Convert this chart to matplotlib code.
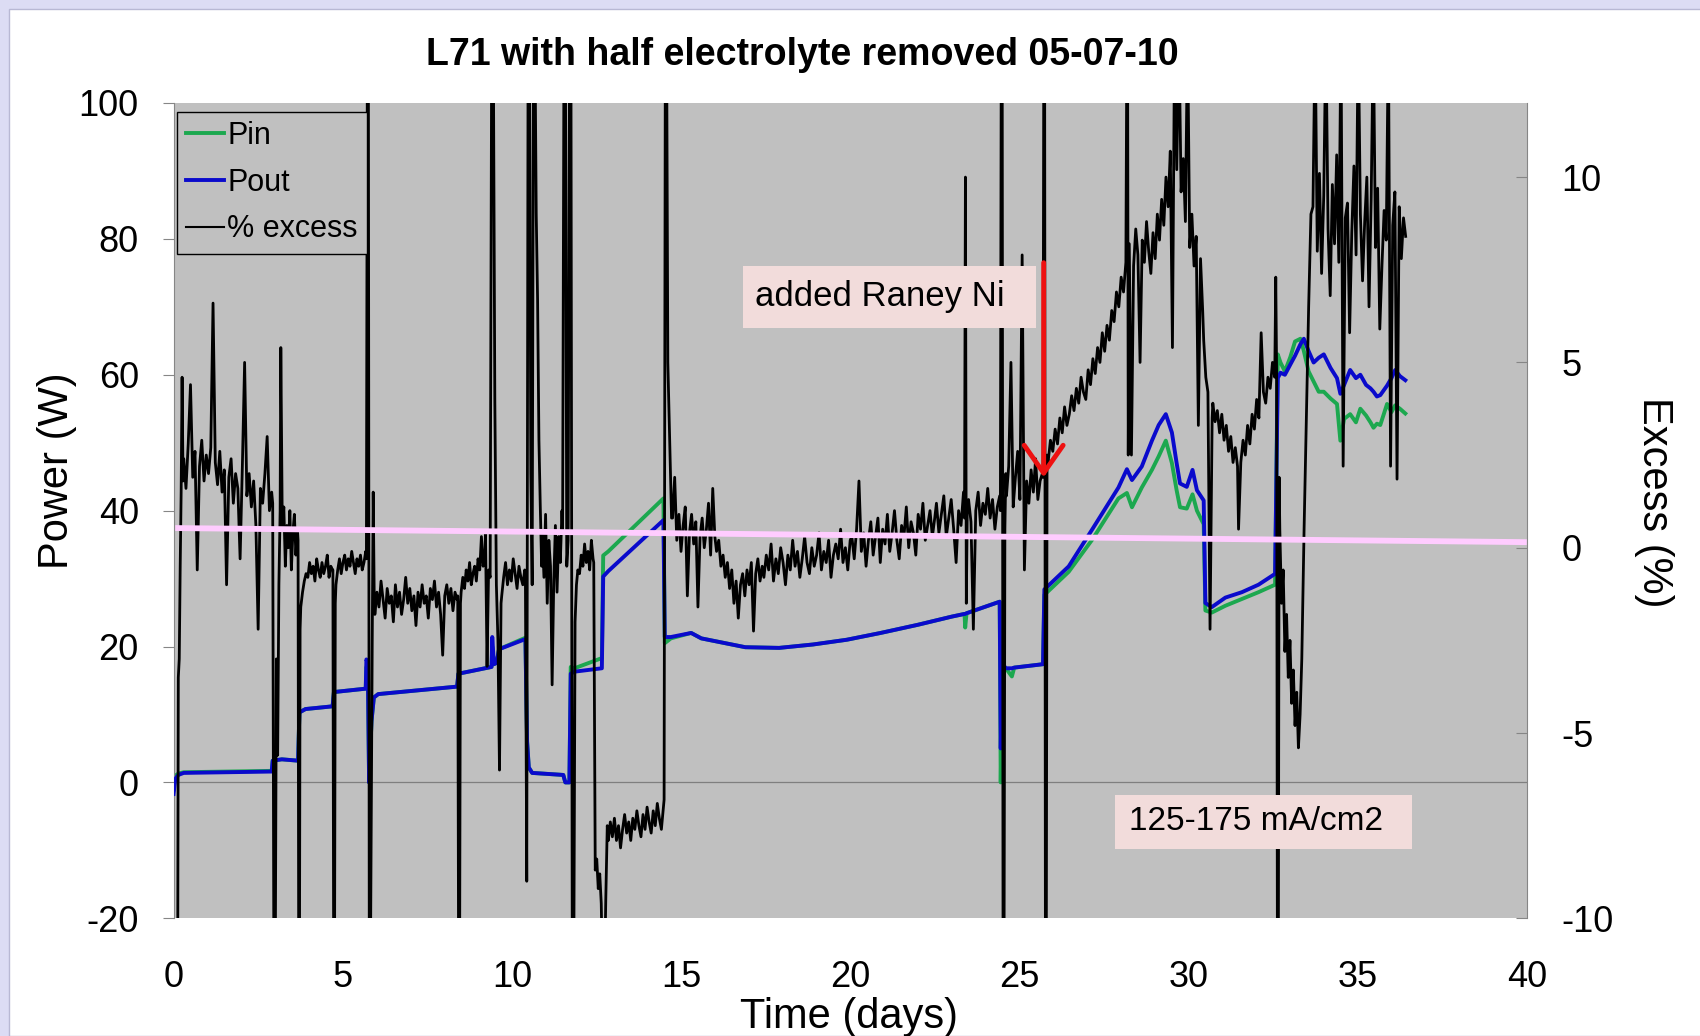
import numpy as np
import matplotlib.pyplot as plt
from matplotlib.patches import Rectangle

# Pin / Pout (W)
pwr_days = [0.00, 0.05, 0.14, 0.30, 2.90, 2.93, 3.20, 3.68, 3.72, 3.90, 4.70, 4.74, 5.68, 5.70, 5.74,
            5.78, 5.85, 5.92, 6.05, 8.38, 8.42, 9.40, 9.42, 9.47, 9.55, 9.62, 10.40, 10.45, 10.50,
            10.60, 11.52, 11.58, 11.70, 11.74, 11.85, 12.66, 12.70, 12.85, 14.48, 14.52, 14.70,
            15.30, 15.60, 16.90, 17.90, 18.90, 19.90, 20.90, 22.00, 23.00, 23.38, 23.40, 23.44,
            24.42, 24.45, 24.50, 24.60, 24.78, 24.85, 25.70, 25.74, 26.46, 27.15, 27.93, 28.18,
            28.33, 28.62, 28.92, 29.12, 29.33, 29.51, 29.65, 29.75, 29.95, 30.12, 30.25, 30.45,
            30.50, 30.69, 31.09, 31.58, 32.07, 32.56, 32.64, 32.72, 32.85, 33.01, 33.15, 33.31,
            33.41, 33.55, 33.70, 33.85, 34.00, 34.20, 34.39, 34.49, 34.60, 34.78, 34.95, 35.08,
            35.25, 35.38, 35.47, 35.57, 35.67, 35.87, 36.00, 36.11, 36.25, 36.41]
pout_w = [-1.7, 0.5, 1.1, 1.4, 1.6, 3.2, 3.4, 3.2, 10.3, 10.8, 11.2, 13.3, 13.8, 18.1, 17.5,
          0.0, 9.0, 12.5, 13.0, 14.1, 16.0, 17.0, 21.4, 17.4, 17.6, 19.6, 21.1, 6.0, 2.2,
          1.4, 1.1, 0.0, 0.0, 16.0, 16.3, 16.8, 30.3, 31.1, 38.6, 21.4, 21.4,
          22.0, 21.2, 19.9, 19.8, 20.3, 21.0, 22.0, 23.2, 24.4, 24.8, 24.8, 24.9,
          26.6, 5.0, 17.5, 16.8, 16.8, 16.9, 17.4, 28.4, 31.8, 37.2, 43.4, 46.1,
          44.5, 46.5, 50.3, 52.6, 54.2, 51.5, 47.0, 44.0, 43.5, 46.0, 43.0, 41.5,
          26.4, 25.8, 27.2, 28.0, 29.1, 30.7, 59.5, 60.3, 60.0, 61.5, 62.8, 64.5,
          65.3, 63.5, 61.8, 62.5, 63.0, 61.0, 59.5, 57.2, 58.5, 60.7, 59.5, 60.0,
          58.5, 58.0, 57.5, 56.8, 57.0, 58.4, 59.5, 60.7, 59.8, 59.2]
pin_w = [-1.0, 1.0, 1.3, 1.5, 1.7, 3.2, 3.4, 3.2, 10.3, 10.8, 11.2, 13.3, 13.8, 17.0, 16.5,
         0.0, 9.0, 12.5, 13.0, 14.1, 16.0, 17.0, 20.0, 17.4, 17.6, 19.6, 21.3, 6.0, 2.2,
         1.4, 1.1, 0.0, 0.0, 17.0, 16.8, 18.3, 33.4, 34.0, 41.8, 20.5, 21.2,
         22.0, 21.2, 19.9, 19.8, 20.3, 21.0, 22.0, 23.2, 24.4, 24.8, 22.8, 24.9,
         26.6, 0.0, 17.0, 16.8, 15.6, 16.9, 17.4, 27.6, 31.0, 35.7, 41.8, 42.6,
         40.5, 43.4, 46.0, 48.0, 50.3, 47.0, 43.0, 40.5, 40.3, 42.4, 40.0, 38.0,
         25.3, 25.0, 26.0, 27.0, 28.0, 29.1, 63.0, 61.8, 60.5, 62.6, 64.9, 65.3,
         63.5, 60.5, 59.0, 57.5, 57.5, 56.5, 55.7, 50.3, 53.5, 54.2, 53.0, 55.0,
         54.0, 53.0, 52.2, 52.8, 52.6, 55.7, 54.5, 55.5, 55.0, 54.3]

# % excess as (first day, last day, samples) runs
exc_d0_3 = [
    (0.00, 0.12, [-12, -12]),
    (0.14, 0.28, [-3.5, -3.0, -0.5, 1.5, 4.6, 1.8]),
    (0.30, 2.90, [2.4, 1.6, 2.8, 4.4, 1.9, 2.6, -0.6, 2.2, 2.9, 1.8, 2.5, 2.0, 2.7, 6.6, 2.3, 1.7,
                  2.6, 1.5, 2.1, -1.0, 1.9, 2.4, 1.2, 2.0, 1.6, -0.3, 2.2, 5.0, 1.4, 2.0, 1.1, 1.8,
                  0.6, -2.2, 1.6, 1.2, 2.0, 3.0, 1.0, 1.5]),
    (2.93, 3.15, [1.2, -12, -12, -3.0, -5.6, -1.0, 1.0]),
    (3.17, 3.66, [5.4, 0.5, 1.1, -0.5, 0.6, 0.0, 1.0, -0.6, 0.4, 0.9, -0.2, 0.5]),
]
exc_d3_6 = [
    (3.68, 3.74, [0.2, -12, -12, -2.2]),
    (3.76, 4.70, [-1.6, -1.2, -0.9, -0.7, -0.8, -0.4, -0.7, -0.5, -0.9, -0.3, -0.6, -0.8, -0.4,
                  -0.7, -0.5, -0.2, -0.8, -0.5, -0.6]),
    (4.71, 4.78, [-0.6, -12, -12, -1.5]),
    (4.80, 5.68, [-1.0, -0.6, -0.3, -0.7, -0.4, -0.2, -0.6, -0.3, -0.5, -0.1, -0.4, -0.7, -0.3,
                  -0.5, -0.2, -0.6, -0.4, -0.1]),
    (5.70, 5.93, [-0.3, 14, 14, -12, -12, -7.1, -2.5, 1.5, -1.2]),
]
exc_d6_10 = [
    (5.95, 8.38, [-1.8, -1.2, -1.6, -0.9, -1.4, -1.9, -1.1, -1.5, -1.3, -2.0, -1.0, -1.6, -1.2,
                  -1.8, -1.4, -0.8, -1.5, -1.1, -1.7, -1.3, -2.1, -1.2, -1.6, -1.0, -1.5, -1.3,
                  -1.9, -1.1, -1.4, -0.9, -1.6, -1.2, -1.8, -2.9, -1.3, -1.0, -1.5, -1.1, -1.7,
                  -1.2, -1.4]),
    (8.40, 8.48, [-1.3, -12, -12, -1.5]),
    (8.50, 9.20, [-1.2, -0.8, -1.1, -0.6, -0.9, -0.4, -1.0, -0.7, -0.5, -0.9, -0.3, -0.6, 0.3,
                  -0.5, -0.2]),
    (9.22, 9.68, [0.4, -3.2, -0.6, -0.8, 14, 14, 4.0, -1.0, -2.5, -6.0, -1.5]),
    (9.70, 10.38, [-1.3, -0.8, -0.4, -1.0, -0.6, -0.9, -0.3, -0.7, -1.1, -0.5, -0.8, -1.0, -0.6]),
]
exc_d10_13 = [
    (10.40, 10.88, [-0.8, -9.0, 14, 14, 2.0, -1.0, 14, 14, 9.0, 6.7, 2.9, 1.1, -0.5]),
    (10.90, 11.48, [0.4, -0.8, 0.9, -1.5, 0.2, -0.5, -3.7, -0.9, 0.6, -1.2, 0.3, -0.4, 1.0]),
    (11.50, 11.95, [0.5, 14, 14, -0.5, 0.2, 14, 14, -12, -12, -2.0, -1.0, -0.6]),
    (12.00, 12.40, [-0.7, -0.2, -0.5, 0.1, -0.4, -0.1, -0.6, 0.2, -0.3]),
    (12.42, 12.82, [-0.4, -8.7, -8.4, -9.2, -8.8, -9.6, -12, -12, -9.5, -7.5]),
]
exc_d13_17 = [
    (12.85, 14.48, [-7.9, -7.4, -7.8, -7.3, -7.9, -7.5, -8.1, -7.6, -7.2, -7.7, -7.4, -7.9, -7.3,
                    -7.6, -7.1, -7.5, -7.8, -7.2, -7.6, -7.0, -7.4, -7.7, -7.1, -7.5, -6.9, -7.3,
                    -7.6, -7.0]),
    (14.50, 14.72, [-6.8, 14, 14, 5.0, 3.6, 2.2, 0.8]),
    (14.75, 16.00, [0.8, 1.9, 0.2, 0.9, -0.1, 0.6, 1.1, -1.3, 0.4, 0.9, 0.1, 0.7, -1.6, 0.3, 0.8,
                    0.0, 0.5, 1.2, -0.2, 1.6, 0.3]),
    (16.05, 17.40, [-0.1, 0.2, -0.5, -0.2, -0.8, -0.4, -1.1, -0.6, -1.5, -0.9, -1.9, -1.0, -0.7,
                    -1.3, -0.6, -1.0, -0.4, -2.25, -0.7, -0.3, -0.9, -0.5]),
]
exc_d17_24 = [
    (17.45, 20.00, [-0.8, -0.2, -0.6, 0.1, -0.9, -0.3, -0.7, 0.0, -0.4, -1.0, -0.2, -0.6, 0.2,
                    -0.5, -0.1, -0.8, -0.3, 0.3, -0.4, -0.7, 0.0, -0.5, -0.2, 0.4, -0.6, -0.1,
                    -0.4, 0.2, -0.8, -0.2, 0.1, -0.3, 0.5, -0.4, 0.0, -0.6, 0.2]),
    (20.05, 22.50, [0.3, -0.3, 0.5, 1.8, -0.1, 0.4, -0.5, 0.2, 0.7, -0.2, 0.3, 0.8, -0.4, 0.5,
                    0.1, 0.9, -0.1, 0.4, 1.0, 0.2, -0.3, 0.6, 0.3, 1.1, 0.0, 0.7, 0.4, -0.2, 0.9,
                    0.5, 1.2, 0.2, 0.6, 1.0, 0.3, 0.8]),
    (22.55, 23.35, [1.2, 0.4, 0.9, 1.4, 0.3, 0.8, 1.3, 0.5, -0.4, 1.0, 0.6, 1.5]),
    (23.38, 23.46, [0.8, 10.0, -1.5, 0.9]),
    (23.50, 24.42, [1.3, 0.7, -2.2, 1.0, 1.5, 0.6, 1.2, 0.9, 1.6, 0.8, 1.3, 0.5, 1.1, 1.4]),
]
exc_d24_28 = [
    (24.44, 24.60, [1.0, 14, 14, -12, -12, 0.5, 2.0]),
    (24.62, 25.68, [1.4, 2.2, 5.0, 1.1, 1.9, 2.6, 1.3, 7.9, -0.6, 1.8, 1.2, 2.1, 1.5, 2.4, 1.3,
                    1.8, 2.0]),
    (25.70, 25.82, [1.9, 14, 14, -12, -12, 2.5]),
    (25.85, 28.15, [2.3, 2.9, 2.6, 3.2, 2.8, 3.5, 3.1, 3.8, 3.3, 3.6, 4.1, 3.7, 4.3, 3.9, 4.6,
                    4.2, 4.0, 4.8, 4.4, 5.1, 4.7, 5.4, 5.0, 5.8, 5.3, 6.0, 5.6, 6.4, 6.1, 6.9,
                    6.5, 7.3, 6.9, 7.7]),
    (28.18, 28.22, [14, 14, 2.5]),
]
exc_d28_33 = [
    (28.25, 30.42, [8.2, 2.5, 7.6, 8.6, 7.9, 5.0, 8.3, 7.7, 8.8, 8.0, 7.4, 8.5, 7.8, 9.0, 8.3,
                    9.4, 8.7, 10.0, 9.2, 10.7, 5.4, 14, 10.2, 14, 9.6, 10.5, 8.8, 14, 8.1, 9.0,
                    7.6, 8.4, 3.3, 7.8, 6.4]),
    (30.45, 30.70, [5.6, 4.6, 4.2, -2.2, 3.5]),
    (30.72, 31.45, [3.9, 3.4, 3.7, 3.1, 3.6, 2.9, 3.3, 2.6, 3.0, 2.3, 2.7, 2.2]),
    (31.48, 32.55, [0.5, 2.3, 2.9, 2.5, 3.3, 2.8, 3.6, 3.2, 4.0, 3.5, 5.8, 4.2, 3.9, 4.6, 4.3,
                    5.0, 4.6]),
    (32.58, 32.68, [7.3, 4.8, -12, -12, 1.9]),
    (32.70, 33.30, [0.5, -1.5, -0.6, -2.8, -1.8, -3.5, -2.5, -4.2, -3.3, -4.8, -3.9, -5.4, -4.5]),
    (33.35, 33.62, [-3.0, 0.5, 3.5, 6.5, 9.0]),
]
exc_d33_37 = [
    (33.68, 36.42, [9.2, 14, 8.0, 10.1, 7.4, 9.5, 14, 8.6, 6.8, 9.8, 8.2, 10.6, 7.7, 14, 2.2,
                    8.9, 9.3, 5.8, 8.5, 10.3, 7.9, 14, 9.0, 7.2, 8.8, 10.0, 6.5, 9.4, 14, 8.1,
                    9.7, 5.9, 7.6, 9.1, 8.3, 14, 2.2, 8.7, 9.6, 1.85, 9.2, 7.8, 8.9, 8.4]),
]

# hand-drawn pink reference line (excess %)
pink_days = [0.05, 40.0]
pink_pct = [0.53, 0.15]

exc_days, exc_pct = [], []
for segs in [exc_d0_3, exc_d3_6, exc_d6_10, exc_d10_13, exc_d13_17,
             exc_d17_24, exc_d24_28, exc_d28_33, exc_d33_37]:
    for t0, t1, vals in segs:
        exc_days.extend(np.linspace(t0, t1, len(vals)))
        exc_pct.extend(vals)

plt.rcParams['font.family'] = ['Liberation Sans', 'DejaVu Sans']
plt.rcParams['axes.unicode_minus'] = False

fig = plt.figure(figsize=(17, 10.36), dpi=100)
fig.patch.set_facecolor('#DCDCF4')
fig.add_artist(Rectangle((9 / 1700, 0), 1, 1 - 9 / 1036, transform=fig.transFigure,
                         facecolor='white', edgecolor='#B8B8D4', lw=1, zorder=0))

ax = fig.add_axes([0.1021, 0.1136, 0.7960, 0.7870])
ax.set_facecolor('#C0C0C0')
ax.axhline(0, color='#7F7F7F', lw=0.9, zorder=1)
l_pin, = ax.plot(pwr_days, pin_w, color='#1CA84F', lw=2.8, label='Pin', zorder=2)
l_pout, = ax.plot(pwr_days, pout_w, color='#0A0ACC', lw=2.8, label='Pout', zorder=3)
ax.set_xlim(0, 40)
ax.set_ylim(-20, 100)
ax.set_xticks(range(0, 41, 5))
ax.set_yticks(range(-20, 101, 20))
ax.tick_params(axis='y', direction='out', length=8, color='#868686', labelsize=26, pad=17)
ax.tick_params(axis='x', length=0, labelsize=26, pad=30)
for s in ['top', 'right', 'bottom']:
    ax.spines[s].set_visible(False)
ax.spines['left'].set_color('#868686')

ax2 = ax.twinx()
l_exc, = ax2.plot(exc_days, exc_pct, color='black', lw=2.0, label='% excess', zorder=3)
ax2.plot(pink_days, pink_pct, color='#FFCCFF', lw=4.2, solid_capstyle='butt', zorder=5)
ax2.set_ylim(-10, 12)
ax2.set_yticks([-10, -5, 0, 5, 10])
ax2.tick_params(axis='y', direction='in', length=8, color='#868686', labelsize=26, pad=25)
for s in ['top', 'left', 'bottom']:
    ax2.spines[s].set_visible(False)
ax2.spines['right'].set_color('#868686')

# annotation boxes and arrow
ax2.add_patch(Rectangle((16.83, 5.94), 8.65, 1.66, facecolor='#F2DCDB', edgecolor='none', zorder=6))
ax2.text(17.2, 6.78, 'added Raney Ni', fontsize=25, ha='left', va='center', zorder=7)
ax2.add_patch(Rectangle((27.82, -8.13), 8.78, 1.46, facecolor='#F2DCDB', edgecolor='none', zorder=6))
ax2.text(28.24, -7.40, '125-175 mA/cm2', fontsize=24, ha='left', va='center', zorder=7)
ax2.annotate('', xy=(25.72, 1.9), xytext=(25.72, 7.69),
             arrowprops=dict(arrowstyle='->,head_length=0.5,head_width=0.35',
                             color='#EE1111', lw=3.5, mutation_scale=40,
                             shrinkA=0, shrinkB=0), zorder=8)

leg = ax2.legend(handles=[l_pin, l_pout, l_exc], loc='upper left', bbox_to_anchor=(0.0024, 0.9893),
                 borderaxespad=0, fontsize=22, frameon=True, fancybox=False, framealpha=1,
                 facecolor='#C0C0C0', edgecolor='black', handlelength=1.25, handletextpad=0.1,
                 labelspacing=0.55, borderpad=0.3)
leg.get_lines()[2].set_linewidth(1.5)

ax.set_xlabel('Time (days)', fontsize=30)
ax.xaxis.label.set_va('center')
ax.xaxis.set_label_coords(0.4992, -0.121)
ax.set_ylabel('Power (W)', fontsize=30)
ax.yaxis.label.set_va('center')
ax.yaxis.set_label_coords(-0.0865, 0.549)
ax2.set_ylabel('Excess (%)', fontsize=30, rotation=-90)
ax2.yaxis.label.set_va('center')
ax2.yaxis.set_label_coords(1.0937, 0.5106)

fig.text(0.472, 0.9466, 'L71 with half electrolyte removed 05-07-10', ha='center', va='center',
         fontsize=27, fontweight='bold')

fig.savefig('out.png', dpi=100, facecolor=fig.get_facecolor())
